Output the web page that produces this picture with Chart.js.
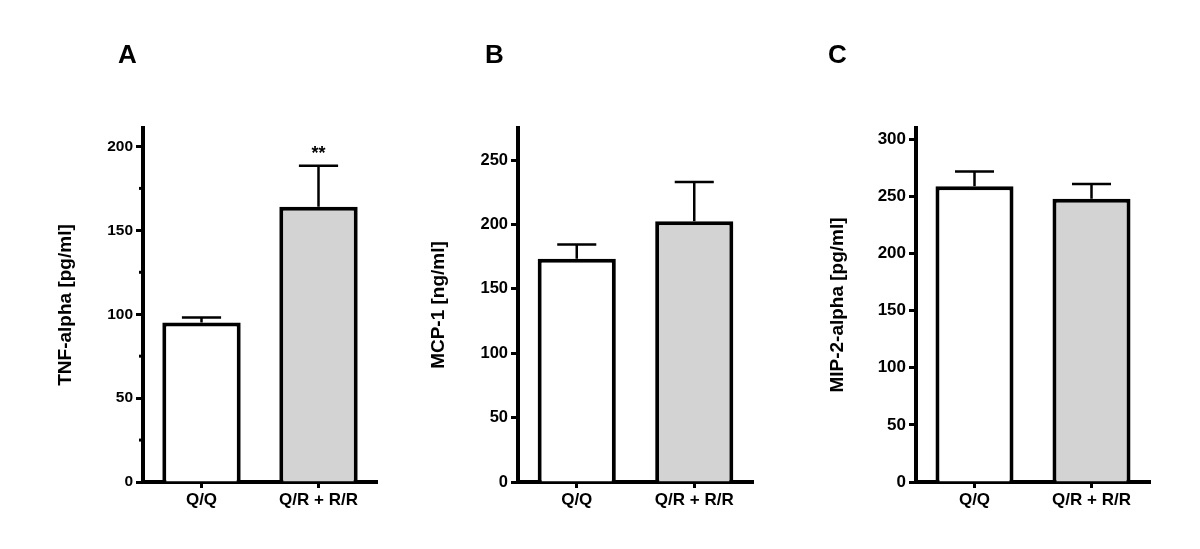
<!DOCTYPE html>
<html>
<head>
<meta charset="utf-8">
<script src="https://cdn.jsdelivr.net/npm/chart.js@4.4.1/dist/chart.umd.min.js"></script>
<style>
  body { margin: 0; background: #fff; }
  #wrap { position: relative; width: 1200px; height: 549px; overflow: hidden; background: #fff; }
  canvas { position: absolute; top: 0; }
  .letter { position: absolute; top: 41px; font: bold 26px "Liberation Sans", Arial, sans-serif; line-height: 26px; color: #000; }
</style>
</head>
<body>
<div id="wrap">
  <canvas id="chartA" width="400" height="549" style="left:0px"></canvas>
  <canvas id="chartB" width="390" height="549" style="left:400px"></canvas>
  <canvas id="chartC" width="410" height="549" style="left:790px"></canvas>
  <div class="letter" style="left:118px">A</div>
  <div class="letter" style="left:485px">B</div>
  <div class="letter" style="left:828px">C</div>
</div>
<script>
const categories = ["Q/Q", "Q/R + R/R"];

// TNF-alpha
const tnfMean = [95, 164];
const tnfSem = [3, 24.5];
const tnfStars = ["", "**"];
const tnfLabels = [0, 50, 100, 150, 200];

// MCP-1
const mcpMean = [173.5, 202.5];
const mcpSem = [11, 30.5];
const mcpLabels = [0, 50, 100, 150, 200, 250];

// MIP-2-alpha
const mipMean = [259, 248];
const mipSem = [13, 13];
const mipLabels = [0, 50, 100, 150, 200, 250, 300];

const barFill = ["#ffffff", "#d3d3d3"];
const FONT = '"Liberation Sans", Arial, Helvetica, sans-serif';

// draws the SEM whiskers, the minor y ticks and the significance stars
const errorBars = {
  id: "errorBars",
  afterDatasetsDraw(chart, args, opts) {
    const ctx = chart.ctx;
    const y = chart.scales.y;
    const meta = chart.getDatasetMeta(0);
    ctx.save();
    ctx.strokeStyle = "#000";
    ctx.fillStyle = "#000";
    ctx.lineWidth = 2.5;
    meta.data.forEach((bar, i) => {
      const top = y.getPixelForValue(opts.mean[i] + opts.sem[i]);
      const half = bar.width / 4;
      ctx.beginPath();
      ctx.moveTo(bar.x, bar.y);
      ctx.lineTo(bar.x, top);
      ctx.moveTo(bar.x - half, top);
      ctx.lineTo(bar.x + half, top);
      ctx.stroke();
      if (opts.stars && opts.stars[i]) {
        ctx.font = "bold 18px " + FONT;
        ctx.textAlign = "center";
        ctx.textBaseline = "alphabetic";
        ctx.fillText(opts.stars[i], bar.x, top - 7);
      }
    });
    if (opts.minor) {
      ctx.lineWidth = 3;
      y.ticks.forEach(t => {
        if (opts.labels.includes(t.value)) return;
        const py = y.getPixelForValue(t.value);
        ctx.beginPath();
        ctx.moveTo(y.right - 4, py);
        ctx.lineTo(y.right, py);
        ctx.stroke();
      });
    }
    ctx.restore();
  }
};

function panel(id, o) {
  return new Chart(document.getElementById(id), {
    type: "bar",
    data: {
      labels: categories,
      datasets: [{
        data: o.mean,
        backgroundColor: barFill,
        borderColor: "#000",
        borderWidth: 4,
        borderSkipped: "bottom",
        categoryPercentage: 1,
        barPercentage: o.barPct
      }]
    },
    options: {
      responsive: false,
      animation: false,
      layout: { padding: { top: 128, right: o.padRight, bottom: 0, left: 0 } },
      plugins: {
        legend: { display: false },
        tooltip: { enabled: false },
        errorBars: { mean: o.mean, sem: o.sem, stars: o.stars, labels: o.labels, minor: o.minor }
      },
      scales: {
        x: {
          grid: { display: true, offset: false, drawOnChartArea: false, tickLength: 6, tickWidth: 3, tickColor: "#000" },
          border: { display: true, color: "#000", width: 4 },
          ticks: { color: "#000", font: { family: FONT, size: 17, weight: "bold" }, padding: 2, maxRotation: 0 },
          afterFit: s => { s.height = 67; }
        },
        y: {
          min: 0,
          max: o.max,
          grid: {
            display: true, drawOnChartArea: false, tickLength: 7, tickWidth: 3,
            tickColor: c => o.labels.includes(c.tick.value) ? "#000" : "rgba(0,0,0,0)"
          },
          border: { display: true, color: "#000", width: 4 },
          ticks: {
            stepSize: o.step,
            includeBounds: false,
            color: "#000",
            padding: 3,
            font: { family: FONT, size: o.tickSize, weight: "bold" },
            callback: v => o.labels.includes(v) ? v : ""
          },
          title: {
            display: true,
            text: o.title,
            color: "#000",
            font: { family: FONT, size: 19, weight: "bold" },
            padding: { top: o.titlePad, bottom: 0 }
          },
          afterFit: s => { s.width = o.axisX; }
        }
      }
    },
    plugins: [errorBars]
  });
}

panel("chartA", {
  mean: tnfMean, sem: tnfSem, stars: tnfStars, labels: tnfLabels, minor: true,
  max: 211, step: 25, title: "TNF-alpha [pg/ml]", tickSize: 15.5,
  axisX: 143, titlePad: 54, padRight: 23, barPct: 0.67
});
panel("chartB", {
  mean: mcpMean, sem: mcpSem, stars: null, labels: mcpLabels, minor: false,
  max: 275, step: 50, title: "MCP-1 [ng/ml]", tickSize: 16.5,
  axisX: 118, titlePad: 27, padRight: 37, barPct: 0.665
});
panel("chartC", {
  mean: mipMean, sem: mipSem, stars: null, labels: mipLabels, minor: false,
  max: 310, step: 50, title: "MIP-2-alpha [pg/ml]", tickSize: 17,
  axisX: 126, titlePad: 36, padRight: 50, barPct: 0.667
});
</script>
</body>
</html>
